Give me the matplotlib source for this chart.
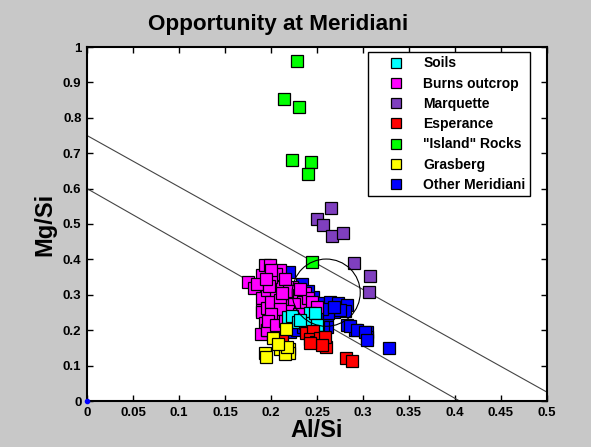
import matplotlib
matplotlib.use("Agg")
import matplotlib.pyplot as plt
from matplotlib.patches import Ellipse
from matplotlib.lines import Line2D

plt.rcParams['font.family'] = ['Liberation Sans', 'DejaVu Sans']

soils_x = [0.2188, 0.2225, 0.2424, 0.2478, 0.2297, 0.2514, 0.237, 0.2315, 0.2478, 0.2497]
soils_y = [0.238, 0.240, 0.248, 0.224, 0.224, 0.210, 0.220, 0.229, 0.2477, 0.2147]

burns_x = [0.175, 0.181, 0.190, 0.1935, 0.190, 0.190, 0.1906, 0.1935, 0.189, 0.1953,
           0.1989, 0.2025, 0.210, 0.1953, 0.2116, 0.2225, 0.237, 0.2243, 0.215, 0.2388,
           0.228, 0.1953, 0.208, 0.1953, 0.205, 0.200, 0.215, 0.220, 0.205, 0.200,
           0.210, 0.230, 0.235, 0.240, 0.225, 0.218, 0.230, 0.210, 0.200, 0.197,
           0.205, 0.215, 0.185, 0.198, 0.200, 0.195, 0.245, 0.250, 0.232, 0.212]
burns_y = [0.337, 0.318, 0.356, 0.384, 0.290, 0.257, 0.252, 0.221, 0.189, 0.200,
           0.384, 0.337, 0.370, 0.313, 0.323, 0.323, 0.304, 0.290, 0.271, 0.276,
           0.262, 0.262, 0.238, 0.200, 0.360, 0.350, 0.345, 0.310, 0.300, 0.280,
           0.285, 0.300, 0.280, 0.290, 0.275, 0.255, 0.245, 0.260, 0.245, 0.225,
           0.215, 0.225, 0.330, 0.325, 0.370, 0.345, 0.280, 0.265, 0.315, 0.305]

marq_x = [0.265, 0.250, 0.256, 0.266, 0.2786, 0.2905, 0.308, 0.3065]
marq_y = [0.544, 0.515, 0.497, 0.467, 0.474, 0.390, 0.354, 0.309]

esp_x = [0.2123, 0.2377, 0.246, 0.2424, 0.249, 0.2533, 0.2595, 0.2815, 0.2877, 0.2587, 0.255, 0.2424]
esp_y = [0.177, 0.193, 0.199, 0.176, 0.1676, 0.177, 0.153, 0.1206, 0.114, 0.182, 0.158, 0.164]

island_x = [0.228, 0.2145, 0.2308, 0.2228, 0.243, 0.240, 0.2446]
island_y = [0.961, 0.854, 0.831, 0.682, 0.675, 0.642, 0.393]

gras_x = [0.216, 0.2025, 0.1935, 0.1946, 0.2098, 0.2199, 0.2199, 0.215, 0.217, 0.208]
gras_y = [0.204, 0.177, 0.136, 0.1234, 0.146, 0.146, 0.135, 0.134, 0.153, 0.160]

other_x = [0.2196, 0.234, 0.246, 0.2514, 0.264, 0.273, 0.2823, 0.2804, 0.2605, 0.269,
           0.2823, 0.2913, 0.304, 0.304, 0.2859, 0.2605, 0.3283, 0.2207, 0.2098, 0.275,
           0.262, 0.293, 0.302, 0.304, 0.257, 0.228, 0.2025, 0.2225, 0.2388, 0.255,
           0.245, 0.268, 0.240, 0.250, 0.235, 0.215, 0.240]
other_y = [0.3635, 0.3296, 0.2947, 0.276, 0.2805, 0.276, 0.271, 0.255, 0.243, 0.251,
           0.2147, 0.2006, 0.1958, 0.182, 0.212, 0.210, 0.1506, 0.1958, 0.229, 0.257,
           0.250, 0.200, 0.196, 0.172, 0.210, 0.200, 0.219, 0.229, 0.225, 0.260,
           0.255, 0.265, 0.270, 0.240, 0.210, 0.210, 0.310]

origin_x = [0.0]
origin_y = [0.0]

line1_x = [0.0, 0.5]
line1_y = [0.75, 0.025]
line2_x = [0.0, 0.405]
line2_y = [0.60, 0.0]

circle_center = (0.26, 0.306)
circle_w, circle_h = 0.074, 0.19

labels = ['Soils', 'Burns outcrop', 'Marquette', 'Esperance', '"Island" Rocks', 'Grasberg', 'Other Meridiani']
colors = ['#00ffff', '#ff00ff', '#7f3fbf', '#ff0000', '#00ff00', '#ffff00', '#0000ff']
xs = [soils_x, burns_x, marq_x, esp_x, island_x, gras_x, other_x]
ys = [soils_y, burns_y, marq_y, esp_y, island_y, gras_y, other_y]
zorders = [5, 4, 6, 6, 7, 6, 3]

fig = plt.figure(figsize=(5.91, 4.47), dpi=100)
fig.patch.set_facecolor('#c8c8c8')
ax = fig.add_axes([87/591, 1-401/447, 460/591, 354/447])
ax.set_facecolor('white')

ax.plot(line1_x, line1_y, color='#444444', lw=0.8, zorder=2)
ax.plot(line2_x, line2_y, color='#444444', lw=0.8, zorder=2)
ax.add_patch(Ellipse(circle_center, circle_w, circle_h, fill=False, edgecolor='black', lw=0.8, zorder=8))

handles = []
for x, y, c, lab, z in zip(xs, ys, colors, labels, zorders):
    ax.plot(x, y, linestyle='none', marker='s', markersize=8.5, markerfacecolor=c,
            markeredgecolor='black', markeredgewidth=0.9, zorder=z)
    handles.append(Line2D([], [], linestyle='none', marker='s', markersize=7,
                          markerfacecolor=c, markeredgecolor='black', markeredgewidth=0.9))

ax.plot(origin_x, origin_y, linestyle='none', marker='o', markersize=3, color='#0000ff',
        zorder=10, clip_on=False)

ax.set_xlim(0, 0.5)
ax.set_ylim(0, 1)
ax.set_xticks([0, 0.05, 0.1, 0.15, 0.2, 0.25, 0.3, 0.35, 0.4, 0.45, 0.5])
ax.set_xticklabels(['0', '0.05', '0.1', '0.15', '0.2', '0.25', '0.3', '0.35', '0.4', '0.45', '0.5'])
ax.set_yticks([0, 0.1, 0.2, 0.3, 0.4, 0.5, 0.6, 0.7, 0.8, 0.9, 1])
ax.set_yticklabels(['0', '0.1', '0.2', '0.3', '0.4', '0.5', '0.6', '0.7', '0.8', '0.9', '1'])
ax.tick_params(direction='in', length=4, width=1, top=True, right=True, labelsize=9.5, pad=4)
for lbl in ax.get_xticklabels() + ax.get_yticklabels():
    lbl.set_fontweight('bold')
for s in ax.spines.values():
    s.set_linewidth(1.5)

fig.text(278/591, 1-30/447, 'Opportunity at Meridiani', fontsize=16.2, fontweight='bold',
         ha='center', va='baseline')
ax.set_xlabel('Al/Si', fontsize=17, fontweight='bold', labelpad=0)
ax.set_ylabel('Mg/Si', fontsize=17, fontweight='bold', labelpad=5)

leg = ax.legend(handles, labels, loc='upper right', bbox_to_anchor=(0.962, 0.985),
                prop={'weight': 'bold', 'size': 10}, frameon=True, fancybox=False,
                edgecolor='black', framealpha=1, borderpad=0.3, labelspacing=0.45,
                handletextpad=0.2, borderaxespad=0, handlelength=3.5)
leg.get_frame().set_linewidth(1.0)
leg.set_zorder(20)

fig.savefig('out.png', dpi=100, facecolor=fig.get_facecolor())
